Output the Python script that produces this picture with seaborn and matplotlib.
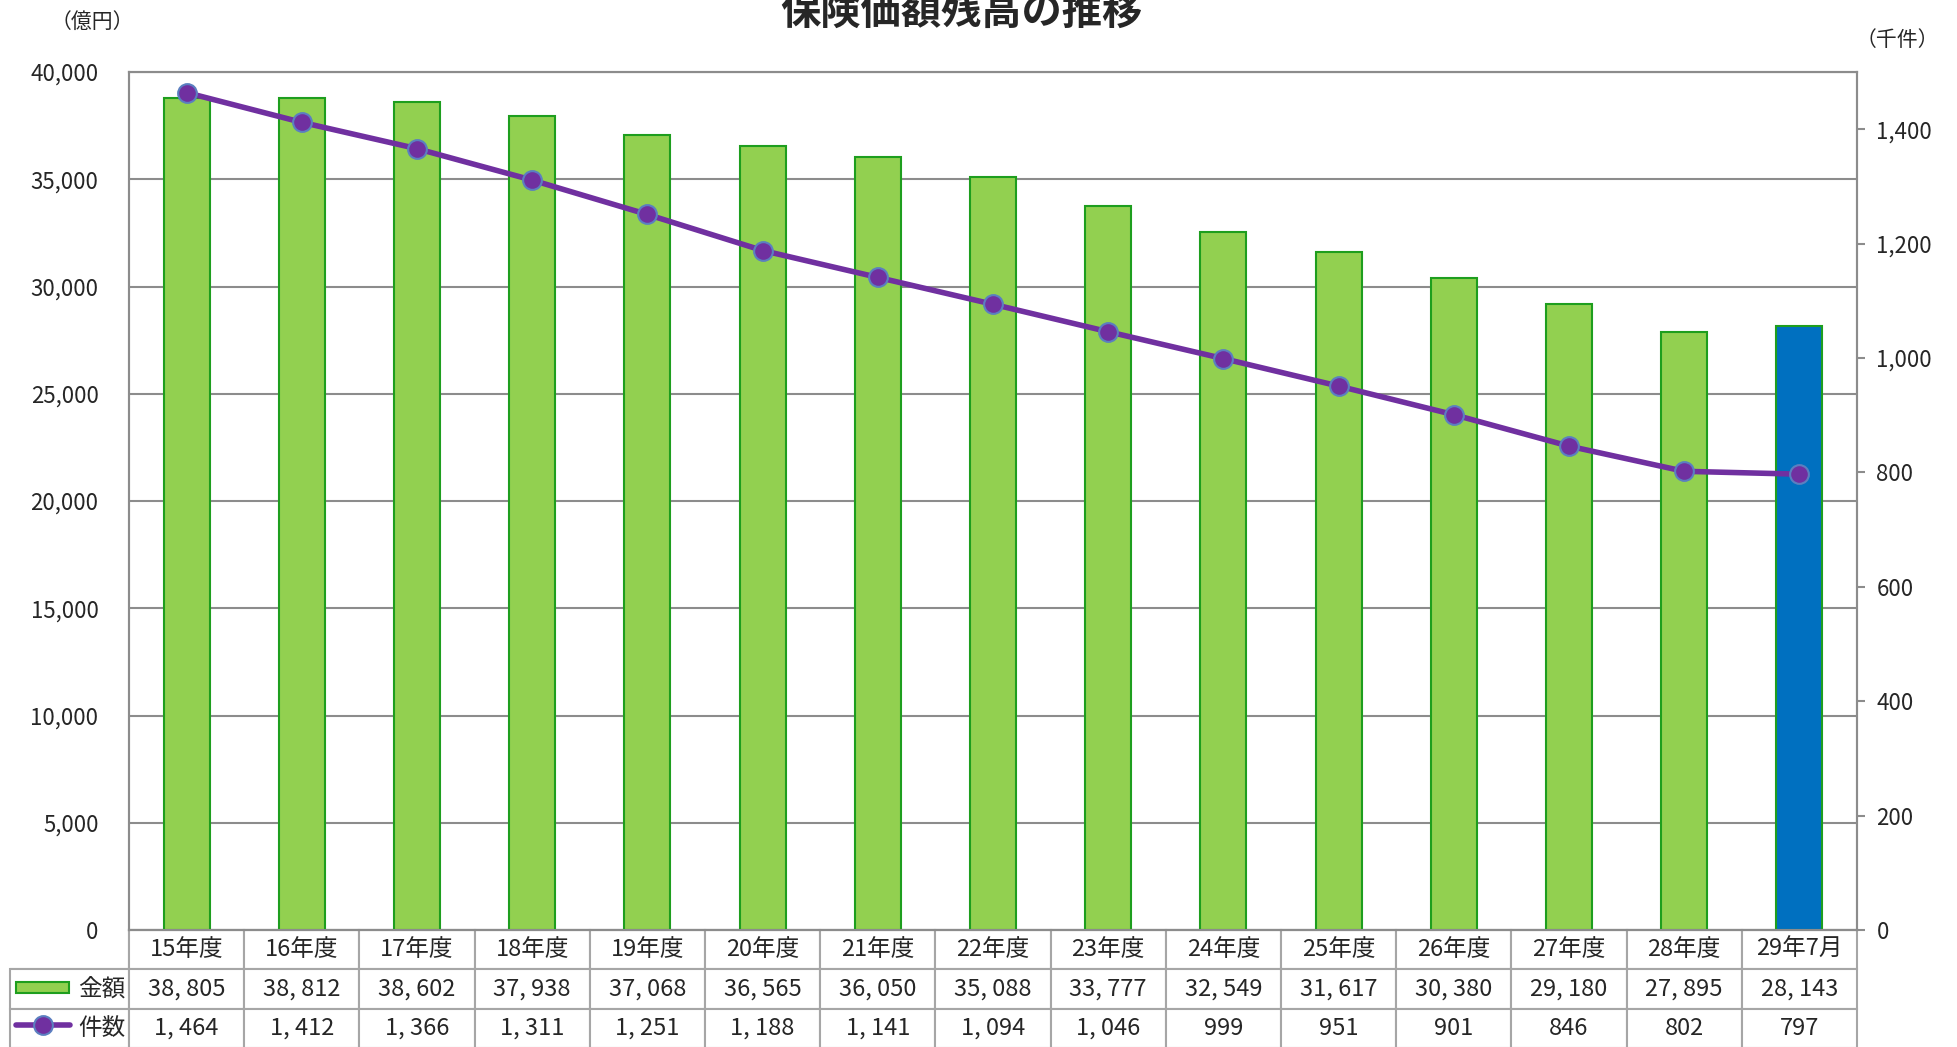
import numpy as np
import pandas as pd
import seaborn as sns
import matplotlib.pyplot as plt
from matplotlib.patches import Rectangle
from matplotlib.lines import Line2D

categories = ["15年度", "16年度", "17年度", "18年度", "19年度", "20年度", "21年度", "22年度",
              "23年度", "24年度", "25年度", "26年度", "27年度", "28年度", "29年7月"]
amounts = [38805, 38812, 38602, 37938, 37068, 36565, 36050, 35088,
           33777, 32549, 31617, 30380, 29180, 27895, 28143]
counts = [1464, 1412, 1366, 1311, 1251, 1188, 1141, 1094,
          1046, 999, 951, 901, 846, 802, 797]
row_names = ["金額", "件数"]

sns.set_theme(style="white")
plt.rcParams['font.family'] = ['Noto Sans CJK JP', 'DejaVu Sans']

GREEN = "#92D050"
EDGE = "#1E9E1E"
BLUE = "#0070C0"
PURPLE = "#7030A0"
GRID = "#8C8C8C"

data = pd.DataFrame({"category": categories, "amount": amounts, "count": counts})
palette = [GREEN] * (len(categories) - 1) + [BLUE]

fig = plt.figure(figsize=(19.58, 10.47), dpi=100)
ax = fig.add_axes([0.0659, 0.1117, 0.8825, 0.8195])

sns.barplot(data=data, x="category", y="amount", hue="category", palette=palette,
            saturation=1, legend=False, width=0.4, edgecolor=EDGE, linewidth=1.5,
            ax=ax, zorder=3)
ax.set_ylim(0, 40000)
ax.set_xlim(-0.5, len(categories) - 0.5)
ax.set_yticks(np.arange(0, 40001, 5000))
ax.set_yticklabels([f"{v:,}" for v in range(0, 40001, 5000)], fontsize=16)
ax.tick_params(axis="y", length=0, pad=22)
ax.set_xticks([])
ax.set_xlabel("")
ax.set_ylabel("")
ax.yaxis.grid(True, color=GRID, linewidth=1.5, zorder=0)
ax.set_axisbelow(True)
for side in ["top", "left", "right", "bottom"]:
    ax.spines[side].set_color(GRID)
    ax.spines[side].set_linewidth(1.5)

ax2 = ax.twinx()
sns.lineplot(x=np.arange(len(categories)), y=counts, ax=ax2, color=PURPLE, linewidth=4,
             marker="o", markersize=13.5, markerfacecolor=PURPLE, markeredgecolor="#5B7FC0",
             markeredgewidth=1.5, sort=False, zorder=5)
ax2.set_ylim(0, 1500)
ax2.set_yticks(np.arange(0, 1401, 200))
ax2.set_yticklabels([f"{v:,}" for v in range(0, 1401, 200)], fontsize=16)
ax2.tick_params(axis="y", length=6, width=1.5, color=GRID, pad=8, direction="out")
ax2.yaxis.tick_right()
for side in ["top", "left", "right", "bottom"]:
    ax2.spines[side].set_color(GRID)
    ax2.spines[side].set_linewidth(1.5)
ax2.set_xlim(-0.5, len(categories) - 0.5)

# data table under the chart
cell_text = [[row_names[0]] + [f"{v:,}".replace(",", ", ") for v in amounts],
             [row_names[1]] + [f"{v:,}".replace(",", ", ") for v in counts]]
lab_w = 0.0689
tbl = ax.table(cellText=cell_text, colLabels=[""] + categories, cellLoc="center",
               colWidths=[lab_w] + [1 / len(categories)] * len(categories),
               bbox=[-lab_w, -0.1375, 1 + lab_w, 0.1375])
tbl.auto_set_font_size(False)
tbl.set_fontsize(17)
for (r, c), cell in tbl.get_celld().items():
    cell.set_edgecolor("#A6A6A6")
    cell.set_linewidth(1.5)
    if r == 0 and c == 0:
        cell.visible_edges = "BR"
    if c == 0 and r > 0:
        cell.get_text().set_ha("right")
        cell._loc = "right"
        cell.PAD = 0.03

# legend keys inside the row label cells
fig.add_artist(Rectangle((16 / 1958, 1 - 993 / 1047), 53 / 1958, 11 / 1047,
                         transform=fig.transFigure, facecolor=GREEN, edgecolor=EDGE, linewidth=1.5))
fig.add_artist(Line2D([16 / 1958, 70 / 1958], [1 - 1025 / 1047] * 2, transform=fig.transFigure,
                      color=PURPLE, linewidth=4))
fig.add_artist(Line2D([43 / 1958], [1 - 1025 / 1047], transform=fig.transFigure, marker="o",
                      markersize=13.5, markerfacecolor=PURPLE, markeredgecolor="#5B7FC0",
                      markeredgewidth=1.5))

fig.text(0.491, 1 - 12 / 1047, "保険価額残高の推移", ha="center", va="center",
         fontsize=29, fontweight="bold")
fig.text(92 / 1958, 1 - 22 / 1047, "（億円）", ha="center", va="center", fontsize=15)
fig.text(1897 / 1958, 1 - 40 / 1047, "（千件）", ha="center", va="center", fontsize=15)

fig.savefig("out.png", dpi=100)
